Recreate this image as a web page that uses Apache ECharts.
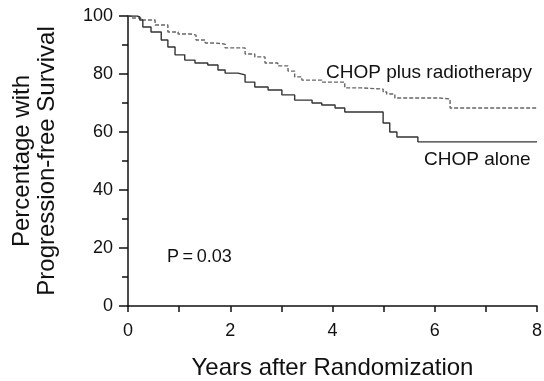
<!DOCTYPE html>
<html>
<head>
<meta charset="utf-8">
<script src="https://cdn.jsdelivr.net/npm/echarts@6/dist/echarts.min.js"></script>
<style>
  html, body { margin: 0; padding: 0; background: #fff; }
  #main { width: 544px; height: 381px; }
</style>
</head>
<body>
<div id="main"></div>
<script>
// CHOP plus radiotherapy (dashed)
const rtYears = [0, 0.06, 0.25, 0.53, 0.78, 0.98, 1.23, 1.33, 1.51, 1.7, 1.9, 2.29, 2.48, 2.68, 2.93, 3.13, 3.26, 3.4, 3.79, 4.24, 4.57, 4.99, 5.06, 5.22, 6.1, 6.3, 8]
const rtPct = [100, 99.3, 98.6, 96.9, 94.5, 93.8, 93.4, 91.7, 90.7, 90.3, 89.0, 86.9, 85.9, 83.8, 82.8, 81.0, 79.0, 77.9, 77.2, 75.2, 74.8, 73.8, 73.1, 71.7, 71.4, 68.3, 68.3]
// CHOP alone (solid)
const chopYears = [0, 0.18, 0.23, 0.29, 0.45, 0.65, 0.78, 0.92, 1.11, 1.31, 1.56, 1.76, 1.9, 2.15, 2.29, 2.48, 2.74, 3.01, 3.26, 3.6, 3.79, 4.05, 4.24, 4.99, 5.12, 5.26, 5.67, 8]
const chopPct = [100, 99.7, 98.6, 96.2, 94.5, 91.7, 89.3, 86.6, 84.8, 83.8, 83.1, 81.4, 80.3, 79.7, 77.2, 75.5, 74.5, 72.8, 71.0, 70.0, 69.3, 68.3, 66.9, 63.1, 60.0, 58.3, 56.6, 56.6]

const zip = (xs, ys) => xs.map((x, i) => [x, ys[i]])
const font = 'Liberation Sans, Arial, sans-serif'

const chart = echarts.init(document.getElementById('main'), null, {renderer: 'canvas'})
chart.setOption({
  backgroundColor: '#ffffff',
  animation: false,
  grid: {left: 128, right: 7, top: 16, bottom: 75, containLabel: false, outerBoundsMode: 'none'},
  xAxis: {
    type: 'value',
    min: 0, max: 8, interval: 2,
    name: 'Years after Randomization',
    nameLocation: 'middle',
    nameGap: 50,
    nameTextStyle: {fontFamily: font, fontSize: 24, color: '#111'},
    axisLine: {lineStyle: {color: '#111', width: 1.5}},
    axisTick: {length: 6, lineStyle: {color: '#111', width: 1.5}},
    minorTick: {show: true, splitNumber: 2, length: 6, lineStyle: {color: '#111', width: 1.5}},
    axisLabel: {margin: 16, fontFamily: font, fontSize: 18, color: '#111'},
    splitLine: {show: false}
  },
  yAxis: {
    type: 'value',
    min: 0, max: 100, interval: 20,
    name: 'Percentage with\nProgression-free Survival',
    nameLocation: 'middle',
    nameGap: 68,
    nameTextStyle: {fontFamily: font, fontSize: 24, color: '#111', lineHeight: 25},
    axisLine: {show: true, lineStyle: {color: '#111', width: 1.5}},
    axisTick: {show: true, length: 9, lineStyle: {color: '#111', width: 1.5}},
    minorTick: {show: true, splitNumber: 2, length: 6, lineStyle: {color: '#111', width: 1.5}},
    axisLabel: {margin: 15, fontFamily: font, fontSize: 18, color: '#111'},
    splitLine: {show: false}
  },
  series: [
    {
      name: 'CHOP plus radiotherapy',
      type: 'line',
      step: 'end',
      symbol: 'none',
      data: zip(rtYears, rtPct),
      lineStyle: {color: '#666', width: 1.4, type: [4, 2]}
    },
    {
      name: 'CHOP alone',
      type: 'line',
      step: 'end',
      symbol: 'none',
      data: zip(chopYears, chopPct),
      lineStyle: {color: '#333', width: 1.4}
    }
  ],
  graphic: [
    {type: 'text', left: 326, top: 63, style: {text: 'CHOP plus radiotherapy', font: '19px ' + font, fill: '#111'}},
    {type: 'text', left: 424, top: 150, style: {text: 'CHOP alone', font: '19px ' + font, fill: '#111'}},
    {type: 'text', left: 167, top: 248, style: {text: 'P\u2009=\u20090.03', font: '18px ' + font, fill: '#111'}}
  ]
})
</script>
</body>
</html>
